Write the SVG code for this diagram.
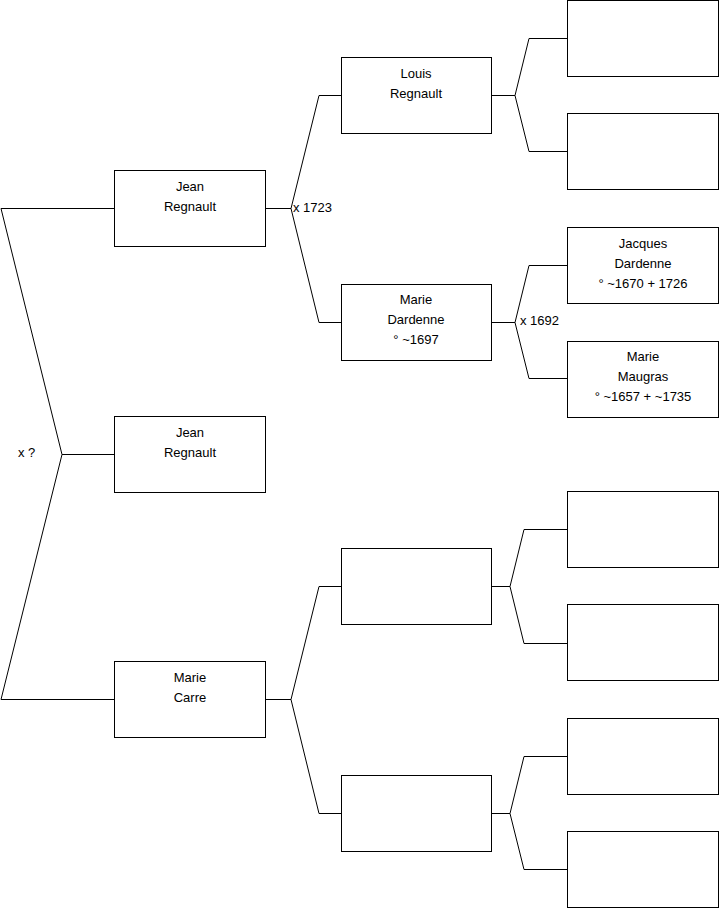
<svg xmlns="http://www.w3.org/2000/svg" width="719" height="908" viewBox="0 0 719 908">
<style>
.box{fill:#fff;stroke:#000;stroke-width:1}
.t{font-family:"Liberation Sans",Arial,sans-serif;font-size:13px;fill:#000;text-anchor:middle}
.l{font-family:"Liberation Sans",Arial,sans-serif;font-size:13px;fill:#000}
.c{fill:none;stroke:#000;stroke-width:1}
</style>
<rect width="719" height="908" fill="#fff"/>
<g id="connectors">
<path class="c" d="M114,208.5 H1 L62,454.5 L1,699.5 H114 M62,454.5 H114"/>
<path class="c" d="M265,208.5 H291 M341,95.5 H319 L291,208.5 L319,322.5 H341"/>
<path class="c" d="M491,95.5 H515 M567,38.5 H529 L515,95.5 L529,151.5 H567"/>
<path class="c" d="M491,322.5 H515 M567,265.5 H529 L515,322.5 L529,378.5 H567"/>
<path class="c" d="M265,699.5 H291 M341,586.5 H319 L291,699.5 L319,813.5 H341"/>
<path class="c" d="M491,586.5 H510 M567,529.5 H524 L510,586.5 L524,643.5 H567"/>
<path class="c" d="M491,813.5 H510 M567,756.5 H524 L510,813.5 L524,869.5 H567"/>
<text class="l" x="18" y="457">x ?</text>
<text class="l" x="293" y="212">x 1723</text>
<text class="l" x="520" y="325">x 1692</text>
</g>
<g id="n-jean1"><rect class="box" x="114.5" y="170.5" width="151" height="76"/><text class="t" x="190" y="191">Jean</text><text class="t" x="190" y="211">Regnault</text></g>
<g id="n-jean2"><rect class="box" x="114.5" y="416.5" width="151" height="76"/><text class="t" x="190" y="437">Jean</text><text class="t" x="190" y="457">Regnault</text></g>
<g id="n-carre"><rect class="box" x="114.5" y="661.5" width="151" height="76"/><text class="t" x="190" y="682">Marie</text><text class="t" x="190" y="702">Carre</text></g>
<g id="n-louis"><rect class="box" x="341.5" y="57.5" width="150" height="76"/><text class="t" x="416" y="78">Louis</text><text class="t" x="416" y="98">Regnault</text></g>
<g id="n-dardenne"><rect class="box" x="341.5" y="284.5" width="150" height="76"/><text class="t" x="416" y="304">Marie</text><text class="t" x="416" y="324">Dardenne</text><text class="t" x="416" y="344">° ~1697</text></g>
<g id="n-empty1"><rect class="box" x="341.5" y="548.5" width="150" height="76"/></g>
<g id="n-empty2"><rect class="box" x="341.5" y="775.5" width="150" height="76"/></g>
<g id="n-g1"><rect class="box" x="567.5" y="0.5" width="151" height="76"/></g>
<g id="n-g2"><rect class="box" x="567.5" y="113.5" width="151" height="76"/></g>
<g id="n-jacques"><rect class="box" x="567.5" y="227.5" width="151" height="76"/><text class="t" x="643" y="248">Jacques</text><text class="t" x="643" y="268">Dardenne</text><text class="t" x="643" y="288">° ~1670 + 1726</text></g>
<g id="n-maugras"><rect class="box" x="567.5" y="341.5" width="151" height="76"/><text class="t" x="643" y="361">Marie</text><text class="t" x="643" y="381">Maugras</text><text class="t" x="643" y="401">° ~1657 + ~1735</text></g>
<g id="n-g5"><rect class="box" x="567.5" y="491.5" width="151" height="76"/></g>
<g id="n-g6"><rect class="box" x="567.5" y="604.5" width="151" height="76"/></g>
<g id="n-g7"><rect class="box" x="567.5" y="718.5" width="151" height="76"/></g>
<g id="n-g8"><rect class="box" x="567.5" y="831.5" width="151" height="76"/></g>
</svg>
